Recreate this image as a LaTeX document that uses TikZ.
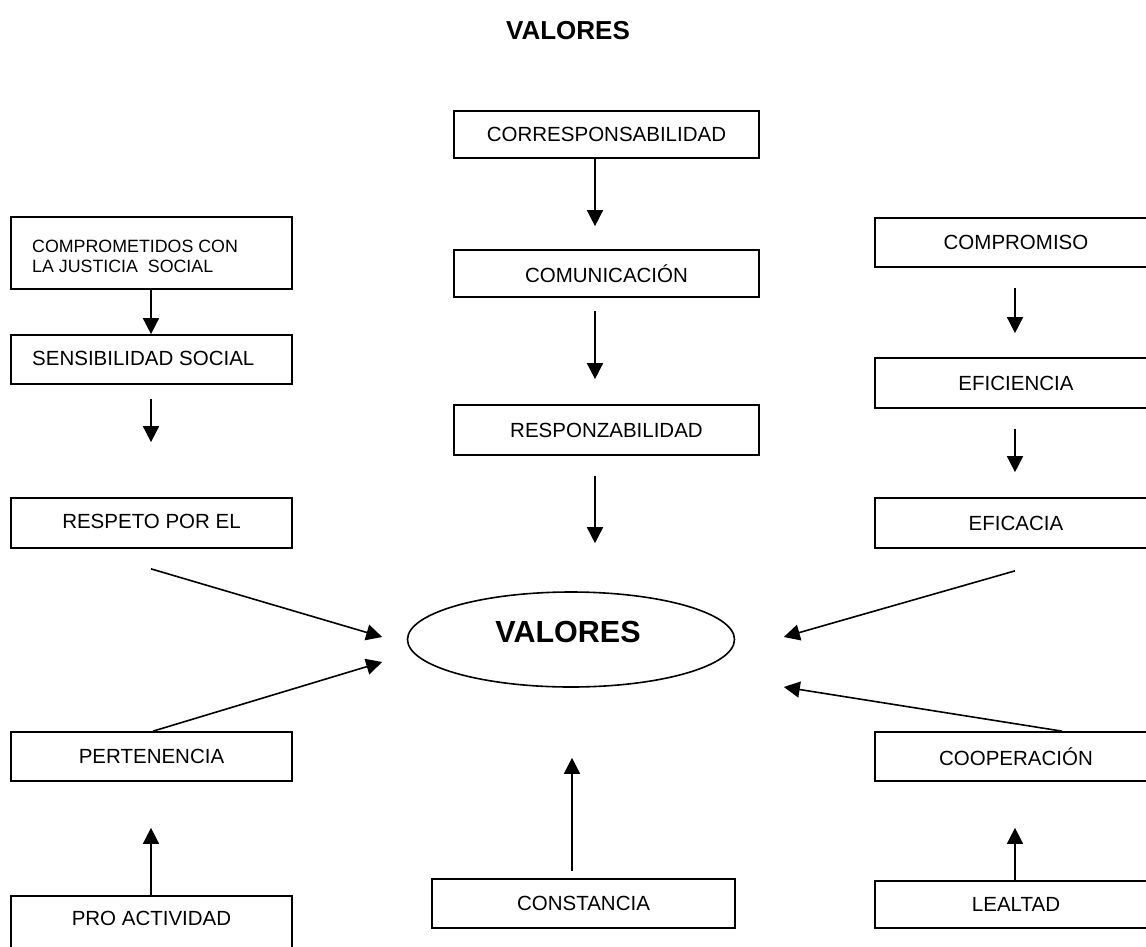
\documentclass[tikz,border=0pt]{standalone}
\usepackage{fontspec}
\setmainfont{Liberation Sans}
\usetikzlibrary{arrows.meta,shapes.geometric}
\tikzset{
  box/.style={draw=black, line width=1.7pt, fill=white, inner sep=0pt,
    font=\fontsize{20.5}{24}\selectfont},
  cbox/.style={box, minimum width=305pt},
  sbox/.style={box, minimum width=282pt},
  arr/.style={line width=1.6pt, -{Triangle[length=16pt,width=16pt]}},
  lbl/.style={inner sep=0pt, font=\fontsize{20.5}{24}\selectfont}
}
\begin{document}
\begin{tikzpicture}[x=1pt,y=-1pt]
\clip (0,0) rectangle (1146,946);
\fill[white] (0,0) rectangle (1146,946);

\node[inner sep=0pt, font=\fontsize{26}{30}\selectfont\bfseries] (title) at (568,31) {VALORES};

% center column
\node[cbox, minimum height=47pt] (corr) at (606.5,134.5) {CORRESPONSABILIDAD};
\node[cbox, minimum height=47pt] (comu) at (606.5,273.5) {COMUNICACIÓN};
\node[cbox, minimum height=50pt] (resp) at (606.5,430) {RESPONZABILIDAD};
\node[box, minimum width=303pt, minimum height=49pt] (cons) at (583.5,903.5) {CONSTANCIA};

% ellipse
\node[ellipse, draw=black, line width=1.6pt, minimum width=327pt, minimum height=95pt, inner sep=0pt] (val) at (571,639.5) {};
\node[inner sep=0pt, font=\fontsize{30.5}{34}\selectfont\bfseries] (valT) at (568,632) {VALORES};

% left column
\node[sbox, minimum width=281pt, minimum height=72pt] (comp) at (151.5,253) {};
\node[inner sep=0pt, anchor=west, align=left, font=\fontsize{17.8}{20}\selectfont] (compT) at (32,256) {COMPROMETIDOS CON\\LA JUSTICIA~ SOCIAL};
\node[sbox, minimum width=281pt, minimum height=49pt] (sens) at (151.5,359.5) {};
\node[lbl, anchor=west] (sensT) at (32,358) {SENSIBILIDAD SOCIAL};
\node[sbox, minimum width=281pt, minimum height=50pt] (respeto) at (151.5,523) {};
\node[lbl] (respetoT) at (151.5,521) {RESPETO POR EL};
\node[sbox, minimum width=281pt, minimum height=49pt] (pert) at (151.5,756.5) {PERTENENCIA};
\node[sbox, minimum width=281pt, minimum height=70pt, anchor=north] (pro) at (151.5,895) {};
\node[lbl] (proT) at (151.5,918) {PRO ACTIVIDAD};

% right column
\node[sbox, minimum height=49pt] (cpro) at (1016,242.5) {COMPROMISO};
\node[sbox, minimum height=50pt] (efi) at (1016,383) {EFICIENCIA};
\node[sbox, minimum height=50pt] (efa) at (1016,523) {EFICACIA};
\node[sbox, minimum height=49pt] (coop) at (1016,756.5) {COOPERACIÓN};
\node[sbox, minimum height=47pt] (leal) at (1016,904.5) {LEALTAD};

% connectors center
\draw[arr, shorten >=23pt] ([xshift=-11.5pt]corr.south) -- ([xshift=-11.5pt]comu.north);
\draw[arr, shorten <=13pt, shorten >=25pt] ([xshift=-11.5pt]comu.south) -- ([xshift=-11.5pt]resp.north);
\draw[arr, shorten <=20pt, shorten >=48pt] ([xshift=-11.5pt]resp.south) -- ([xshift=24pt]val.north);
\draw[arr, shorten >=70pt] ([xshift=-11.5pt,yshift=7pt]cons.north) -- ([xshift=1pt]val.south);

% connectors left
\draw[arr] ([xshift=-0.5pt]comp.south) -- ([xshift=-0.5pt]sens.north);
\draw[arr, shorten <=14pt, shorten >=55pt] ([xshift=-0.5pt]sens.south) -- ([xshift=-0.5pt]respeto.north);
\draw[arr] ([xshift=-0.5pt,yshift=-20pt]respeto.south) -- ([xshift=-24.5pt,yshift=2.5pt]val.west);
\draw[arr] ([xshift=1.5pt]pert.north) -- ([xshift=-24.5pt,yshift=-22.5pt]val.west);
\draw[arr, shorten >=46pt] ([xshift=-0.5pt]pro.north) -- ([xshift=-0.5pt]pert.south);

% connectors right
\draw[arr, shorten <=20pt, shorten >=24pt] ([xshift=-1pt]cpro.south) -- ([xshift=-1pt]efi.north);
\draw[arr, shorten <=20pt, shorten >=25pt] ([xshift=-1pt]efi.south) -- ([xshift=-1pt]efa.north);
\draw[arr] ([xshift=-1pt,yshift=-22pt]efa.south) -- ([xshift=48.5pt,yshift=2.5pt]val.east);
\draw[arr] ([xshift=46pt]coop.north) -- ([xshift=48.5pt,yshift=-47.5pt]val.east);
\draw[arr, shorten >=46pt] ([xshift=-1pt]leal.north) -- ([xshift=-1pt]coop.south);
\end{tikzpicture}
\end{document}
